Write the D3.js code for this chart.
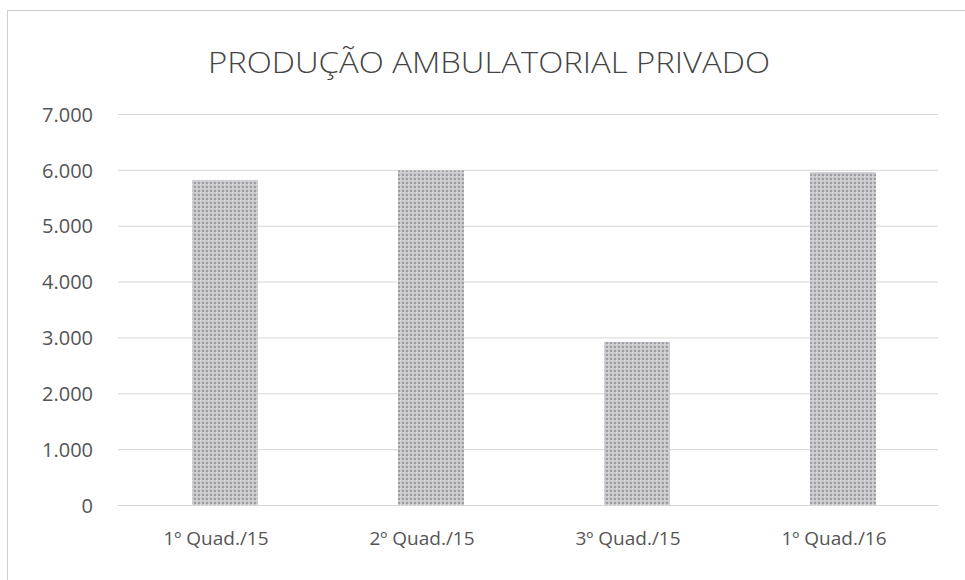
<html>
<head>
<meta charset="utf-8" />
<title>Produção Ambulatorial Privado</title>
<script src="https://cdn.jsdelivr.net/npm/d3@7"></script>
<style>
body { margin: 0; background: #fff; }
text { font-family: "Open Sans", Lato, sans-serif; }
</style>
</head>
<body>
<script>
var categories = ["1º Quad./15", "2º Quad./15", "3º Quad./15", "1º Quad./16"];
var values = [5820, 5990, 2920, 5960];
var yTicks = [0, 1000, 2000, 3000, 4000, 5000, 6000, 7000];

var W = 965, H = 580;
var margin = {top: 114, right: 19, bottom: 75, left: 122};
var width = W - margin.left - margin.right,
    height = H - margin.top - margin.bottom;

var base = d3.select("body").append("svg")
  .attr("width", W).attr("height", H);

// textured grey fill, like the scanned print
var defs = base.append("defs");
var pat = defs.append("pattern").attr("id", "tex")
  .attr("width", 4).attr("height", 4).attr("patternUnits", "userSpaceOnUse");
pat.append("rect").attr("width", 4).attr("height", 4).attr("fill", "#c9c9cd");
pat.append("rect").attr("x", 0).attr("y", 0).attr("width", 2).attr("height", 2).attr("fill", "#9d9da4");
pat.append("rect").attr("x", 2).attr("y", 2).attr("width", 1).attr("height", 1).attr("fill", "#e2e2e4");

// chart border
base.append("rect")
  .attr("x", 7.5).attr("y", 10.5).attr("width", W - 5).attr("height", H)
  .attr("fill", "none").attr("stroke", "#cfcfcf");

base.append("text")
  .attr("x", 489).attr("y", 73)
  .attr("text-anchor", "middle")
  .attr("font-size", "30px")
  .attr("font-weight", 300)
  .attr("fill", "#444")
  .attr("textLength", 562).attr("lengthAdjust", "spacingAndGlyphs")
  .text("PRODUÇÃO AMBULATORIAL PRIVADO");

var svg = base.append("g").attr("transform", "translate(" + margin.left + "," + margin.top + ")");

var xScale = d3.scaleBand().domain(categories).range([0, width]).paddingInner(0.68).paddingOuter(0.34);
var yScale = d3.scaleLinear().domain([0, 7000]).range([height, 0]);

var fmt = function(d) { return d3.format(",")(d).replace(/,/g, "."); };

var yAxis = svg.append("g")
  .call(d3.axisLeft(yScale).tickValues(yTicks).tickSize(-width + 4).tickFormat(fmt).tickPadding(29));
yAxis.select(".domain").remove();
yAxis.selectAll("line").attr("stroke", "#d6d6d6").attr("transform", "translate(-4,0)");
yAxis.selectAll("text").attr("font-size", "20px").attr("fill", "#555").attr("dy", "0.36em");

svg.selectAll(".bar").data(values).enter().append("rect")
  .attr("class", "bar")
  .attr("x", function(d, i) { return xScale(categories[i]); })
  .attr("width", xScale.bandwidth())
  .attr("y", function(d) { return yScale(d); })
  .attr("height", function(d) { return height - yScale(d); })
  .attr("fill", "url(#tex)");

var xAxis = svg.append("g")
  .attr("transform", "translate(0," + height + ")")
  .call(d3.axisBottom(xScale).tickSize(0).tickPadding(27));
xAxis.select(".domain").remove();
xAxis.selectAll("text").attr("font-size", "19px").attr("fill", "#555").attr("dx", "-9");
</script>
</body>
</html>
